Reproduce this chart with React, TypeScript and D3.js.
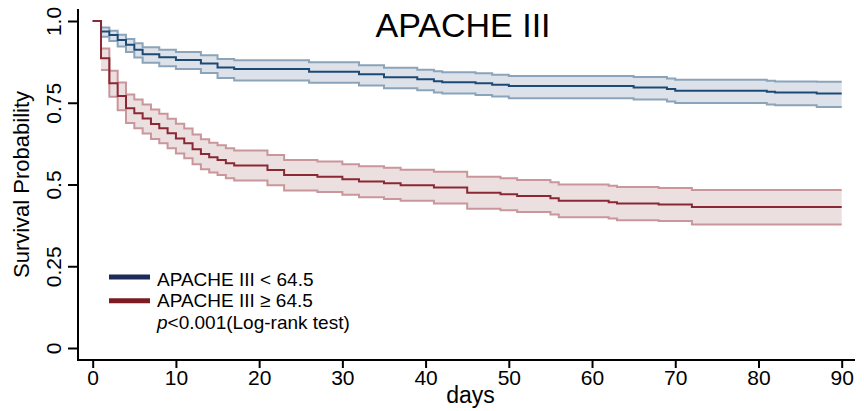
import { useEffect, useRef } from "react";
import * as d3 from "d3";

// APACHE III < 64.5 (step times in days, survival, 95% CI)
const lowDays = [0, 1, 2, 3, 4, 5, 6, 8, 10, 13, 15, 17, 26, 32, 35, 39, 41, 42, 46, 48, 50, 65, 69, 70, 81, 82, 87];
const lowSurv = [1, 0.968, 0.957, 0.942, 0.927, 0.912, 0.898, 0.889, 0.881, 0.87, 0.858, 0.853, 0.845, 0.837, 0.828, 0.822, 0.816, 0.813, 0.81, 0.805, 0.801, 0.797, 0.792, 0.787, 0.784, 0.781, 0.778];
const lowLower = [1, 0.952, 0.939, 0.922, 0.905, 0.888, 0.872, 0.862, 0.853, 0.841, 0.826, 0.818, 0.811, 0.803, 0.794, 0.788, 0.781, 0.778, 0.774, 0.769, 0.764, 0.76, 0.754, 0.749, 0.745, 0.742, 0.737];
const lowUpper = [1, 0.98, 0.97, 0.958, 0.945, 0.932, 0.92, 0.912, 0.905, 0.895, 0.884, 0.88, 0.874, 0.865, 0.857, 0.851, 0.846, 0.843, 0.84, 0.836, 0.832, 0.829, 0.824, 0.82, 0.817, 0.815, 0.814];

// APACHE III >= 64.5
const highDays = [0, 1, 2, 3, 4, 5, 6, 7, 8, 9, 10, 11, 12, 13, 14, 15, 16, 17, 21, 23, 27, 30, 32, 35, 37, 41, 45, 49, 51, 55, 56, 62, 63, 68, 72];
const highSurv = [1, 0.886, 0.81, 0.771, 0.733, 0.718, 0.702, 0.685, 0.672, 0.657, 0.641, 0.626, 0.608, 0.593, 0.583, 0.575, 0.565, 0.558, 0.544, 0.529, 0.524, 0.516, 0.509, 0.504, 0.498, 0.491, 0.475, 0.47, 0.465, 0.458, 0.45, 0.446, 0.442, 0.439, 0.431];
const highLower = [1, 0.85, 0.768, 0.727, 0.688, 0.672, 0.656, 0.639, 0.626, 0.611, 0.595, 0.58, 0.562, 0.547, 0.537, 0.529, 0.519, 0.512, 0.498, 0.482, 0.477, 0.469, 0.461, 0.456, 0.45, 0.442, 0.426, 0.421, 0.416, 0.408, 0.4, 0.396, 0.391, 0.388, 0.378];
const highUpper = [1, 0.916, 0.848, 0.812, 0.775, 0.76, 0.745, 0.729, 0.716, 0.701, 0.686, 0.671, 0.653, 0.638, 0.628, 0.62, 0.611, 0.604, 0.59, 0.575, 0.57, 0.562, 0.556, 0.551, 0.545, 0.539, 0.524, 0.519, 0.514, 0.507, 0.5, 0.496, 0.492, 0.489, 0.483];

const lastDay = 90;
const xTicks = [0, 10, 20, 30, 40, 50, 60, 70, 80, 90];
const yTicks = [0, 0.25, 0.5, 0.75, 1];
const yTickLabels = ["0", "0.25", "0.5", "0.75", "1.0"];
const legendLabels = ["APACHE III < 64.5", "APACHE III \u2265 64.5"];

const FONT = "'Liberation Sans', Arial, Helvetica, sans-serif";

function App() {
  const ref = useRef<SVGSVGElement>(null);

  useEffect(() => {
    const svg = d3.select(ref.current);
    svg.selectAll("*").remove();

    const width = 864;
    const height = 411;
    const axisX = 78;
    const axisY = 360;

    const x = d3.scaleLinear().domain([0, 90]).range([92.7, 841.7]);
    const y = d3.scaleLinear().domain([0, 1]).range([348, 21]);

    svg.attr("width", width).attr("height", height);

    // rows per group, with a closing point at the last day
    const rows = (days, s, lo, hi) => {
      const r = days.map((d, i) => ({ d, s: s[i], lo: lo[i], hi: hi[i] }));
      const last = r[r.length - 1];
      r.push({ ...last, d: lastDay });
      return r;
    };

    const groups = [
      {
        data: rows(lowDays, lowSurv, lowLower, lowUpper),
        fill: "#dde2ea",
        edge: "#8ba4b9",
        line: "#1c4a76",
      },
      {
        data: rows(highDays, highSurv, highLower, highUpper),
        fill: "#ecdfe0",
        edge: "#c9969b",
        line: "#8a2833",
      },
    ];

    const area = d3
      .area()
      .curve(d3.curveStepAfter)
      .x((d) => x(d.d))
      .y0((d) => y(d.lo))
      .y1((d) => y(d.hi));

    const line = (key) =>
      d3
        .line()
        .curve(d3.curveStepAfter)
        .x((d) => x(d.d))
        .y((d) => y(d[key]));

    // bands first, then the survival lines on top
    groups.forEach((g) => {
      const band = g.data.filter((d) => d.d >= 1);
      svg.append("path").attr("d", area(band)).attr("fill", g.fill);
      ["lo", "hi"].forEach((k) => {
        svg
          .append("path")
          .attr("d", line(k)(band))
          .attr("fill", "none")
          .attr("stroke", g.edge)
          .attr("stroke-width", 2);
      });
    });
    groups.forEach((g) => {
      svg
        .append("path")
        .attr("d", line("s")(g.data))
        .attr("fill", "none")
        .attr("stroke", g.line)
        .attr("stroke-width", 2);
    });

    // axes
    const yAxis = svg
      .append("g")
      .attr("transform", `translate(${axisX},0)`)
      .call(
        d3
          .axisLeft(y)
          .tickValues(yTicks)
          .tickSize(10)
          .tickFormat((d, i) => yTickLabels[i])
      );
    yAxis.select(".domain").remove();
    yAxis.selectAll("line").attr("stroke", "#000").attr("stroke-width", 2);
    yAxis
      .selectAll("text")
      .attr("x", 0)
      .attr("y", -17)
      .attr("dy", 0)
      .attr("transform", "rotate(-90)")
      .style("text-anchor", "middle")
      .style("font-family", FONT)
      .style("font-size", "21px")
      .attr("fill", "#000");

    const xAxis = svg
      .append("g")
      .attr("transform", `translate(0,${axisY})`)
      .call(d3.axisBottom(x).tickValues(xTicks).tickSize(8));
    xAxis.select(".domain").remove();
    xAxis.selectAll("line").attr("stroke", "#000").attr("stroke-width", 2);
    xAxis
      .selectAll("text")
      .attr("y", 25)
      .attr("dy", 0)
      .style("font-family", FONT)
      .style("font-size", "21px")
      .attr("fill", "#000");

    svg
      .append("line")
      .attr("x1", axisX)
      .attr("x2", axisX)
      .attr("y1", 9)
      .attr("y2", axisY + 1)
      .attr("stroke", "#000")
      .attr("stroke-width", 2);
    svg
      .append("line")
      .attr("x1", axisX - 1)
      .attr("x2", 855)
      .attr("y1", axisY)
      .attr("y2", axisY)
      .attr("stroke", "#000")
      .attr("stroke-width", 2);

    // titles
    svg
      .append("text")
      .attr("x", 463)
      .attr("y", 37)
      .attr("text-anchor", "middle")
      .style("font-family", FONT)
      .style("font-size", "34px")
      .text("APACHE III");

    svg
      .append("text")
      .attr("x", 470.5)
      .attr("y", 403)
      .attr("text-anchor", "middle")
      .style("font-family", FONT)
      .style("font-size", "23px")
      .text("days");

    svg
      .append("text")
      .attr("transform", `translate(29,${(y(0) + y(1)) / 2}) rotate(-90)`)
      .attr("text-anchor", "middle")
      .style("font-family", FONT)
      .style("font-size", "22px")
      .text("Survival Probability");

    // legend
    const legendColors = ["#1c2b5a", "#7b1c22"];
    legendLabels.forEach((label, i) => {
      const ly = 277 + i * 23.7;
      svg
        .append("line")
        .attr("x1", 109)
        .attr("x2", 150)
        .attr("y1", ly)
        .attr("y2", ly)
        .attr("stroke", legendColors[i])
        .attr("stroke-width", 5);
      svg
        .append("text")
        .attr("x", 157)
        .attr("y", 286 + i * 21.3)
        .style("font-family", FONT)
        .style("font-size", "19px")
        .text(label);
    });
    const pText = svg
      .append("text")
      .attr("x", 157)
      .attr("y", 328.6)
      .style("font-family", FONT)
      .style("font-size", "19px");
    pText.append("tspan").style("font-style", "italic").text("p");
    pText.append("tspan").text("<0.001(Log-rank test)");
  }, []);

  return (
    <div style={{ position: "absolute", left: 0, top: 0 }}>
      <svg ref={ref} style={{ display: "block" }}></svg>
    </div>
  );
}

export default App;
